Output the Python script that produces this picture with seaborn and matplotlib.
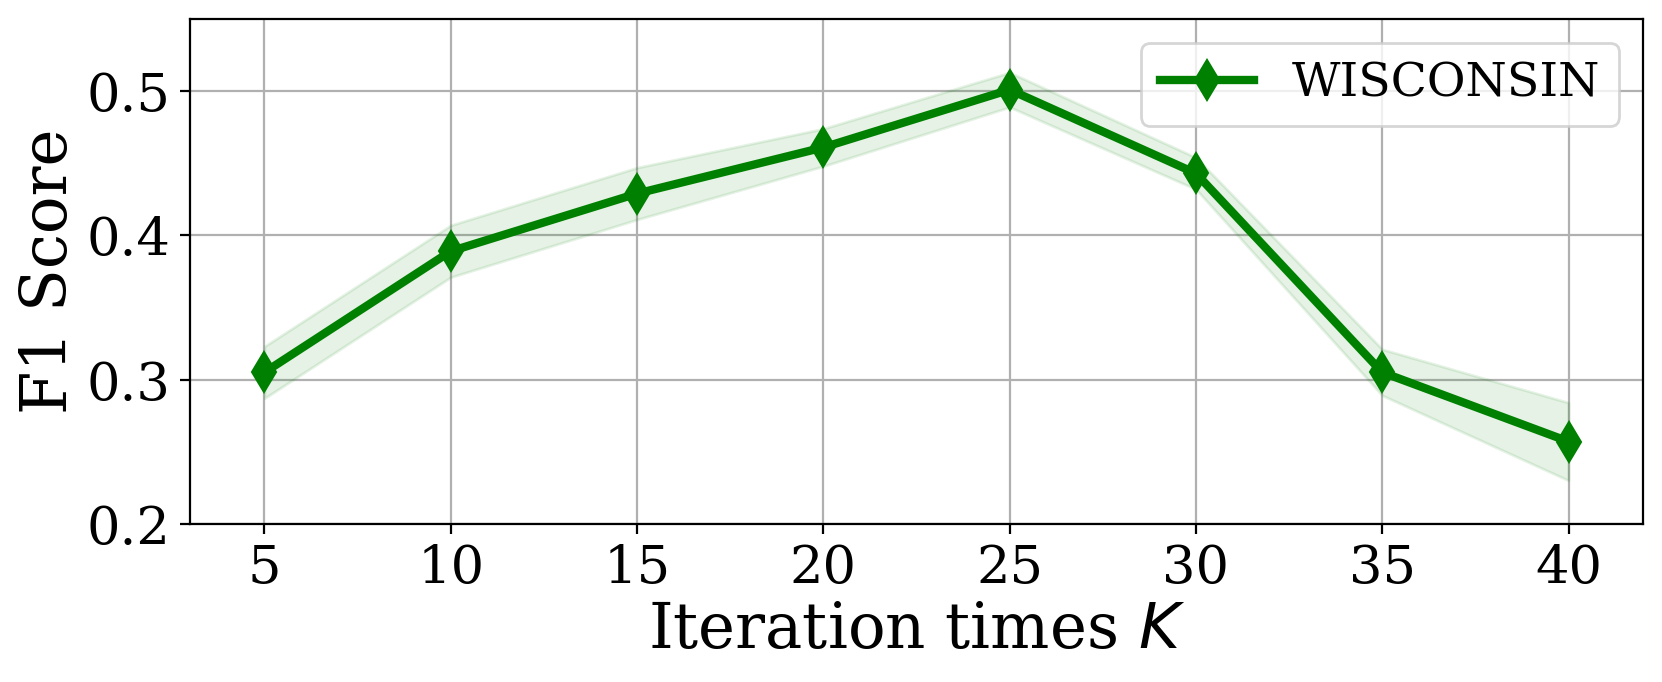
import matplotlib
matplotlib.use("Agg")
import matplotlib.pyplot as plt
import seaborn as sns
import numpy as np
import pandas as pd

# Data
iterations = [5, 10, 15, 20, 25, 30, 35, 40]
f1_scores = [0.305, 0.389, 0.429, 0.461, 0.501, 0.443, 0.305, 0.257]
f1_spread = [0.018, 0.018, 0.018, 0.013, 0.012, 0.011, 0.016, 0.027]
series_name = "WISCONSIN"
x_ticks = [5, 10, 15, 20, 25, 30, 35, 40]
y_ticks = [0.2, 0.3, 0.4, 0.5]

plt.rcParams['font.family'] = ['DejaVu Serif']

df = pd.DataFrame({"K": iterations, "F1": f1_scores, "spread": f1_spread})
lower = df["F1"] - df["spread"]
upper = df["F1"] + df["spread"]

fig = plt.figure(figsize=(8.31, 3.41), dpi=200)
ax = fig.add_axes([0.1143, 0.2321, 0.9886 - 0.1143, 0.972 - 0.2321])

ax.fill_between(df["K"], lower, upper, color="green", alpha=0.1)
sns.lineplot(data=df, x="K", y="F1", ax=ax, color="green", marker="d",
             linewidth=3, markersize=10, markeredgecolor="green",
             label=series_name)

ax.set_xlim(3, 42)
ax.set_ylim(0.2, 0.55)
ax.set_xticks(x_ticks)
ax.set_yticks(y_ticks)
ax.tick_params(axis="both", labelsize=19)
ax.set_xlabel("Iteration times $K$", fontsize=22.5, labelpad=2)
ax.set_ylabel("F1 Score", fontsize=22.5, labelpad=2.5)
ax.grid(True, color="#b0b0b0", linewidth=0.8)
ax.set_axisbelow(True)
ax.legend(loc="upper right", fontsize=17)

fig.savefig("out.png", dpi=200)
